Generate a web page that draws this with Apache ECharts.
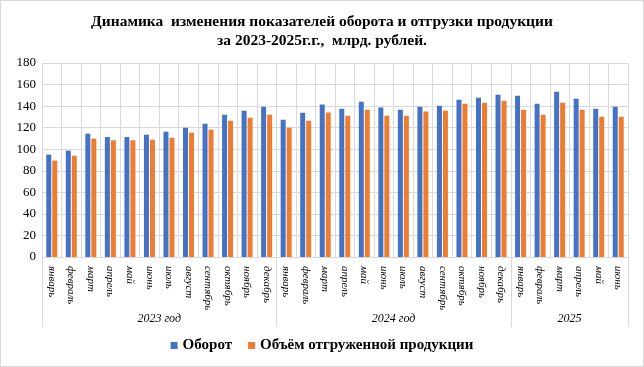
<!DOCTYPE html>
<html><head><meta charset="utf-8">
<script src="https://cdn.jsdelivr.net/npm/echarts@6/dist/echarts.min.js"></script>
<style>html,body{margin:0;padding:0;background:#fff}#c{width:642px;height:365px;border:1px solid #d9d9d9}</style>
</head><body><div id="c"></div>
<script>
const months = ['январь','февраль','март','апрель','май','июнь','июль','август','сентябрь','октябрь','ноябрь','декабрь',
 'январь','февраль','март','апрель','май','июнь','июль','август','сентябрь','октябрь','ноябрь','декабрь',
 'январь','февраль','март','апрель','май','июнь'];
const years = ['2023 год','2024 год','2025'];
const yearCenters = [6,18,27];
const yearBounds = [0,12,24,30];
const turnover = [95,98.7,114.4,111.3,111.3,113.5,116.3,120,123.7,132,135.8,139.5,
 127.4,133.9,141.4,137.6,144.1,138.6,136.7,139.5,140.4,146,147.8,150.6,
 149.7,142.3,153.4,146.9,137.6,139.5];
const shipped = [89.4,94,109.8,108.3,108.3,108.9,110.7,115.4,118.2,126.5,129.3,132,
 120,126.5,134,131.1,136.7,131.1,131.1,134.9,135.8,142.3,143.2,145,
 136.7,132,143.2,136.7,130.2,130.2];
const yTicks = {min:0,max:180,interval:20};
const serif = '"Liberation Serif","DejaVu Serif",serif';
const chart = echarts.init(document.getElementById('c'));
chart.setOption({
  animation:false,
  textStyle:{fontFamily:serif},
  title:{text:'Динамика  изменения показателей оборота и отгрузки продукции\nза 2023-2025г.г.,  млрд. рублей.',
    left:'center',top:6,textStyle:{fontFamily:serif,fontWeight:'bold',fontSize:15.5,lineHeight:19,color:'#000'}},
  legend:{bottom:8,left:'center',itemWidth:7,itemHeight:7,itemGap:16,icon:'rect',
    textStyle:{fontFamily:serif,fontWeight:'bold',fontSize:15,color:'#000'}},
  grid:{left:41,right:15,top:62,bottom:109},
  xAxis:[{type:'category',data:months,
    axisLine:{lineStyle:{color:'#d9d9d9'}},axisTick:{show:false},
    splitLine:{show:true,lineStyle:{color:'#d9d9d9'}},
    axisLabel:{rotate:-90,interval:0,fontStyle:'italic',fontSize:11,color:'#000',margin:9,fontFamily:serif}},
   {type:'value',min:0,max:30,position:'bottom',
    axisLine:{show:false},splitLine:{show:false},
    axisTick:{show:true,customValues:yearBounds,length:70,lineStyle:{color:'#d9d9d9'}},
    axisLabel:{customValues:yearCenters,margin:56,fontStyle:'italic',fontSize:12,color:'#000',fontFamily:serif,
      formatter:v=>years[yearCenters.indexOf(v)]}}],
  yAxis:{type:'value',min:yTicks.min,max:yTicks.max,interval:yTicks.interval,
    axisLine:{show:false},axisTick:{show:false},
    splitLine:{lineStyle:{color:'#d9d9d9'}},
    axisLabel:{fontSize:13,color:'#000',margin:6,fontFamily:serif}},
  series:[
    {name:'Оборот',type:'bar',data:turnover,barWidth:5,barGap:'20%',itemStyle:{color:'#4472C4'}},
    {name:'Объём отгруженной продукции',type:'bar',data:shipped,barWidth:5,itemStyle:{color:'#ED7D31'}}
  ]
});
</script></body></html>
